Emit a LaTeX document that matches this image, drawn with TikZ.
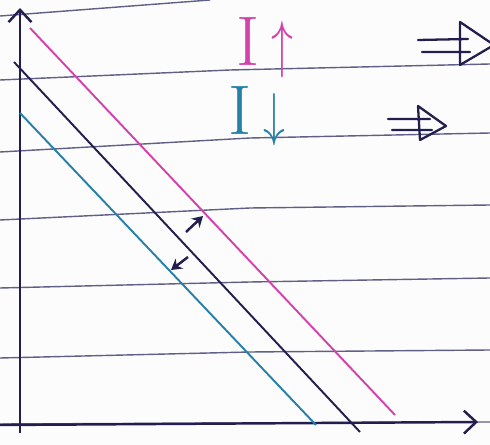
\documentclass[tikz,border=0pt]{standalone}
\usepackage{amsmath}
\usepackage{amssymb}
\usepackage{tikz}
\usepackage{xcolor}
\usetikzlibrary{
    arrows.meta,
    positioning,
    calc
}
\definecolor{ink}{RGB}{34,30,78}
\definecolor{rule}{RGB}{95,95,135}
\definecolor{pink}{RGB}{212,66,172}
\definecolor{sea}{RGB}{38,128,168}
\definecolor{paper}{RGB}{252,252,252}
\tikzset{
  ruled/.style  = {rule, line width=0.8pt},
  axis/.style   = {ink, line width=1.4pt, -{Straight Barb[length=7pt, width=13pt]}},
  band/.style   = {line width=1.1pt},
  nudge/.style  = {ink, line width=1.4pt, -{Stealth[length=6pt, width=7pt]}},
  lbl/.style    = {font=\fontsize{40}{40}\selectfont, inner sep=0pt},
  impl/.style   = {ink, line width=1.3pt, line join=round, line cap=round}
}

\begin{document}
\begin{tikzpicture}[x=0.02cm, y=-0.02cm]

%% --- paper ---
\fill[paper] (0,0) rectangle (490,445);
\useasboundingbox (0,0) rectangle (490,445);

%% --- ruled lines ---
\draw[ruled] (0,16)  -- (210,0);
\draw[ruled] (0,80)  -- (230,70) -- (490,64);
\draw[ruled] (0,152) -- (250,138) -- (490,133);
\draw[ruled] (0,220) -- (250,208) -- (490,205);
\draw[ruled] (0,288) -- (250,282) -- (490,278);
\draw[ruled] (0,358) -- (250,352) -- (490,350);
\draw[ruled] (0,424) -- (490,422);

%% --- axes ---
\coordinate (O)  at (20,433);
\coordinate (Y)  at (20,8);
\coordinate (X0) at (0,425);
\coordinate (X)  at (478,422);
\draw[axis] (O)  -- (Y);
\draw[axis] (X0) -- (X);

%% --- the three levels ---
\coordinate (up0) at (30,28);   \coordinate (up1) at (395,415);
\coordinate (mid0) at (14,62);  \coordinate (mid1) at (360,432);
\coordinate (dn0) at (20,113);  \coordinate (dn1) at (316,425);
\draw[band, pink] (up0)  -- (up1);
\draw[band, ink]  (mid0) -- (mid1);
\draw[band, sea]  (dn0)  -- (dn1);

%% --- shifts ---
\coordinate (s1) at (186,232);  \coordinate (e1) at (203,216);
\coordinate (s2) at (188,257);  \coordinate (e2) at (171,270);
\draw[nudge] (s1) -- (e1);
\draw[nudge] (s2) -- (e2);

%% --- labels ---
\node[lbl, pink] (Iup) at (265,48)  {I\hspace{7pt}\scalebox{1}[1.45]{$\uparrow$}};
\node[lbl, sea]  (Idn) at (257,116) {I\hspace{7pt}\scalebox{1}[1.35]{$\downarrow$}};

%% --- implies marks ---
\coordinate (imp1) at (418,45);
\draw[impl] (imp1) ++(0,-5) -- ++(50,-1)
            (imp1) ++(4,7)  -- ++(48,0)
            (imp1) ++(42,-23) -- ++(0,43) -- ++(34,-20) -- cycle;
\coordinate (imp2) at (388,124);
\draw[impl] (imp2) ++(0,-5) -- ++(42,0)
            (imp2) ++(4,6)  -- ++(40,0)
            (imp2) ++(30,-18) -- ++(2,34) -- ++(26,-14) -- cycle;

\end{tikzpicture}
\end{document}
